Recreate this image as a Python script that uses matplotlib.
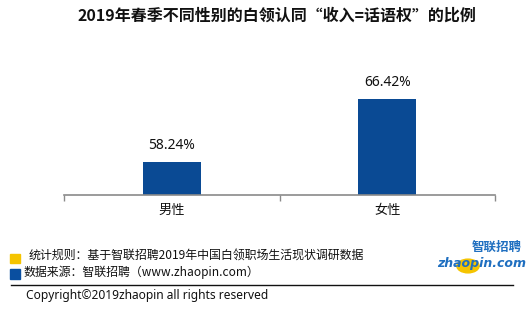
import matplotlib
matplotlib.use("Agg")
import matplotlib.pyplot as plt
from matplotlib.patches import Rectangle, Circle

plt.rcParams['font.family'] = ['Noto Sans CJK SC', 'DejaVu Sans']

categories = ["男性", "女性"]
values = [58.24, 66.42]
value_labels = ["58.24%", "66.42%"]
title = "2019年春季不同性别的白领认同“收入=话语权”的比例"
note1 = "统计规则：基于智联招聘2019年中国白领职场生活现状调研数据"
note2 = "数据来源：智联招聘（www.zhaopin.com）"
copyright_text = "Copyright©2019zhaopin all rights reserved"

W, H = 530, 327
fig = plt.figure(figsize=(W / 100, H / 100), dpi=100)

def fx(px):
    return px / W

def fy(py):
    return 1 - py / H

ax = fig.add_axes([fx(64), fy(195), fx(495) - fx(64), fy(48.7) - fy(195)])
x = list(range(len(categories)))
bars = ax.bar(x, values, width=0.27, color="#0A4A94")
ax.set_xlim(-0.5, 1.5)
ax.set_ylim(54, 73)
for xi, v, lab in zip(x, values, value_labels):
    ax.annotate(lab, (xi, v), xytext=(0, 7), textcoords="offset points",
                ha="center", va="bottom", fontsize=10, color="#111111",
                family=["Noto Sans", "DejaVu Sans"])
for s in ["top", "right", "left"]:
    ax.spines[s].set_visible(False)
ax.spines["bottom"].set_color("#8a8a8a")
ax.spines["bottom"].set_linewidth(1.2)
ax.set_yticks([])
ax.set_xticks([-0.5, 0.5, 1.5])
ax.set_xticklabels([])
ax.tick_params(axis="x", length=4, color="#8a8a8a", width=1)
for xi, c in zip(x, categories):
    ax.text(xi, -0.06, c, transform=ax.get_xaxis_transform(), ha="center",
            va="top", fontsize=9.5, color="#111111")

fig.text(fx(277), fy(16), title, ha="center", va="center", fontsize=11.5,
         fontweight="bold", color="#111111")

# footer
fig.patches.append(Rectangle((fx(10), fy(263)), fx(10), fy(254) - fy(263),
                             transform=fig.transFigure, color="#F5C400"))
fig.patches.append(Rectangle((fx(10), fy(279)), fx(10), fy(269) - fy(279),
                             transform=fig.transFigure, color="#0A4FA0"))
fig.text(fx(29), fy(256), note1, ha="left", va="center", fontsize=8.6, color="#111111")
fig.text(fx(23), fy(272), note2, ha="left", va="center", fontsize=8.6, color="#111111")
fig.add_artist(plt.Line2D([fx(11), fx(513)], [fy(285), fy(285)],
                          transform=fig.transFigure, color="#111111", lw=1))
fig.text(fx(26), fy(295), copyright_text, ha="left", va="center", fontsize=8.6,
         color="#111111", family=["Noto Sans", "DejaVu Sans"])

# logo
fig.patches.append(Circle((fx(468), fy(266)), 0.021, transform=fig.transFigure,
                          color="#F5C400", zorder=1))
fig.text(fx(497), fy(247), "智联招聘", ha="center", va="center", fontsize=9,
         fontweight="bold", color="#1f6fc0", style="italic", zorder=2)
fig.text(fx(482), fy(263), "zhaopin.com", ha="center", va="center", fontsize=9,
         fontweight="bold", color="#1f6fc0", style="italic", zorder=2,
         family=["DejaVu Sans"])

fig.savefig("out.png", dpi=100)
